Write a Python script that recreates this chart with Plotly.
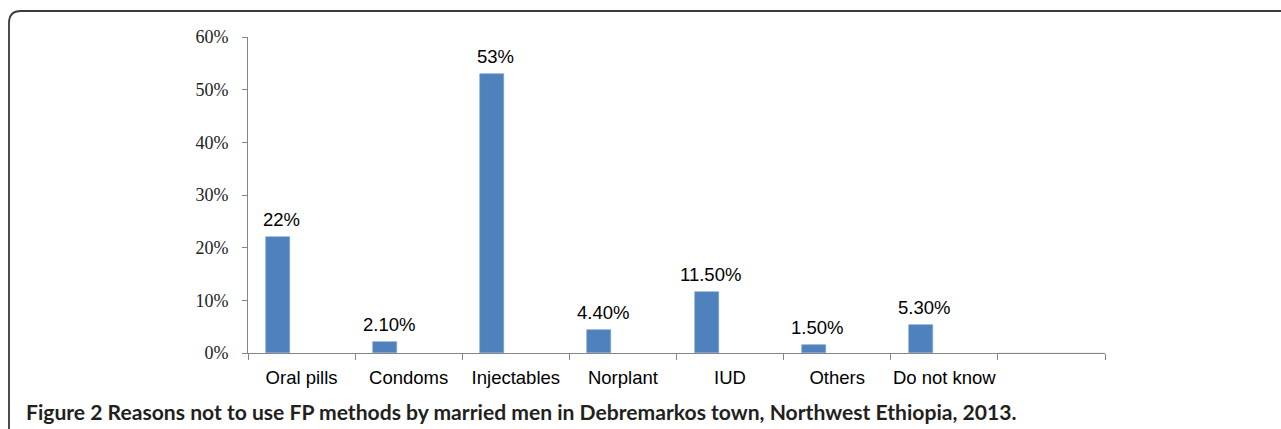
import plotly.graph_objects as go

categories = ["Oral pills", "Condoms", "Injectables", "Norplant", "IUD", "Others", "Do not know"]
values = [22, 2.1, 53, 4.4, 11.5, 1.5, 5.3]
value_labels = ["22%", "2.10%", "53%", "4.40%", "11.50%", "1.50%", "5.30%"]
y_ticks = [0, 10, 20, 30, 40, 50, 60]
y_tick_labels = ["0%", "10%", "20%", "30%", "40%", "50%", "60%"]
caption_bold = "Figure 2"
caption_text = "Reasons not to use FP methods by married men in Debremarkos town, Northwest Ethiopia, 2013."

W, H = 1281, 429
L, R, T, B = 248, 1105, 37, 353


def px(x):
    return (x - L) / (R - L)


def py(y):
    return (B - y) / (B - T)


BAR = "#4F81BD"
fig = go.Figure()
fig.add_trace(go.Bar(
    x=categories, y=values,
    width=0.224, offset=-0.331,
    marker=dict(color=BAR, line=dict(color="#7A9FD0", width=0.6)),
    hoverinfo="skip", showlegend=False,
))
# empty eighth slot
fig.add_trace(go.Bar(x=[" "], y=[0], marker=dict(color="rgba(0,0,0,0)"),
                     hoverinfo="skip", showlegend=False))

for c, v, lab in zip(categories, values, value_labels):
    fig.add_annotation(x=c, y=v, xref="x", yref="y", text=lab, showarrow=False,
                       xshift=-20, yshift=5, yanchor="bottom",
                       font=dict(family="Liberation Sans, Arial", size=18.5, color="#000"))

fig.add_annotation(xref="paper", yref="paper", x=px(24), y=py(411), xanchor="left", yanchor="middle",
                   text=f"<b>{caption_bold} {caption_text}</b>", showarrow=False,
                   font=dict(family="Lato, Open Sans", size=21.1, color="#231F20"))

# frame (left + top with rounded corner)
r = 12
path = (f"M {px(9)},{py(440)} L {px(9)},{py(11 + r)} "
        f"Q {px(9)},{py(11)} {px(9 + r)},{py(11)} L {px(1290)},{py(11)}")
fig.add_shape(type="path", path=path, xref="paper", yref="paper",
              line=dict(color="#3a3a3a", width=1.8))

fig.update_layout(
    width=W, height=H,
    margin=dict(l=L, r=W - R, t=T, b=H - B, pad=0, autoexpand=False),
    paper_bgcolor="white", plot_bgcolor="white",
    bargap=0, barmode="overlay",
    xaxis=dict(
        type="category", categoryorder="array", categoryarray=categories + [" "],
        range=[-0.5, 7.5], tickson="boundaries", ticks="outside", ticklen=6,
        tickcolor="#868686", showline=True, linecolor="#868686", linewidth=1,
        showgrid=False, zeroline=False, tickangle=0, automargin=False,
        tickfont=dict(family="Liberation Sans, Arial", size=18.5, color="#000"),
        ticklabelstandoff=8,
    ),
    yaxis=dict(
        range=[0, 60], tickvals=y_ticks, ticktext=y_tick_labels, ticks="outside", ticklen=5,
        tickcolor="#868686", showline=True, linecolor="#868686", linewidth=1,
        showgrid=False, zeroline=False, automargin=False,
        tickfont=dict(family="Liberation Serif, Times New Roman", size=18, color="#222"),
        ticklabelstandoff=10,
    ),
)

fig.write_html("out.html", config={"displayModeBar": False},
               post_script="document.body.style.margin='0';document.body.style.padding='0';")
